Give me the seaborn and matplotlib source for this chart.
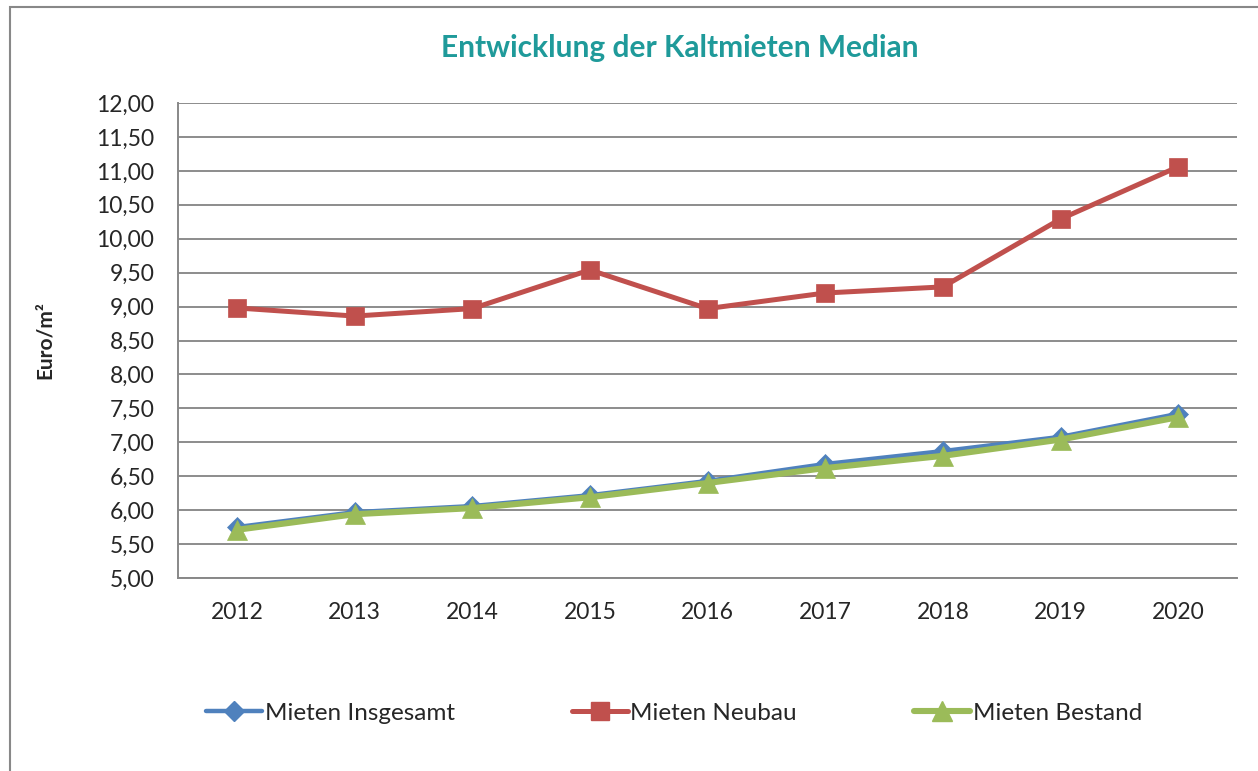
import seaborn as sns
import matplotlib.pyplot as plt
import pandas as pd
from matplotlib.ticker import FuncFormatter, FixedLocator
from matplotlib.lines import Line2D
from matplotlib.patches import Rectangle

years = ["2012", "2013", "2014", "2015", "2016", "2017", "2018", "2019", "2020"]
insgesamt = [5.75, 5.97, 6.06, 6.22, 6.43, 6.68, 6.87, 7.08, 7.42]
neubau = [8.98, 8.86, 8.97, 9.54, 8.97, 9.20, 9.29, 10.29, 11.06]
bestand = [5.71, 5.94, 6.03, 6.19, 6.40, 6.62, 6.80, 7.04, 7.37]

series = ["Mieten Insgesamt", "Mieten Neubau", "Mieten Bestand"]
values = [insgesamt, neubau, bestand]
colors = ["#4F81BD", "#C0504D", "#9BBB59"]
markers = ["D", "s", "^"]
msizes = [10, 13, 14]
lwidths = [3.2, 3.6, 4.4]


def fmt(v, pos):
    return f"{v:.2f}".replace(".", ",")


def main():
    sns.set_style("white")
    plt.rcParams['font.family'] = ['Lato', 'DejaVu Sans']

    fig = plt.figure(figsize=(12.58, 7.71), dpi=100)
    ax = fig.add_axes([178 / 1258, 1 - 578 / 771, (1237 - 178) / 1258, (578 - 103) / 771])

    handles = []
    for name, vals, c, m, ms, lw in zip(series, values, colors, markers, msizes, lwidths):
        data = pd.DataFrame({'x': range(len(years)), 'y': vals})
        sns.lineplot(data=data, x='x', y='y', ax=ax, color=c, marker=m, markersize=ms,
                     linewidth=lw, markeredgecolor=c, markeredgewidth=0.5, zorder=3)
        handles.append(Line2D([], [], color=c, marker=m, markersize=ms, linewidth=lw,
                              markeredgecolor=c, label=name))

    ax.set_xlim(-0.5, len(years) - 0.5)
    ax.set_ylim(5, 12)
    ax.set_yticks([5 + 0.5 * i for i in range(15)])
    ax.yaxis.set_major_formatter(FuncFormatter(fmt))
    ax.set_xticks(range(len(years)))
    ax.set_xticklabels(years)
    ax.xaxis.set_minor_locator(FixedLocator([i - 0.5 for i in range(len(years) + 1)]))
    ax.tick_params(axis='x', which='major', length=0, labelsize=16.5, pad=17)
    ax.tick_params(axis='x', which='minor', length=8, color='#888888', width=1.2, direction='out')
    ax.tick_params(axis='y', length=6, color='#888888', width=1.2, labelsize=16.5, pad=11, direction='out')

    ax.grid(axis='y', color='#8c8c8c', linewidth=1.4)
    for s in ['top', 'right']:
        ax.spines[s].set_visible(False)
    for s in ['left', 'bottom']:
        ax.spines[s].set_color('#888888')
        ax.spines[s].set_linewidth(1.4)

    ax.set_xlabel("")
    ax.set_ylabel("Euro/m²", fontsize=15, fontweight='bold', labelpad=30)

    fig.text(680 / 1258, 1 - 48 / 771, "Entwicklung der Kaltmieten Median", ha='center', va='center',
             fontsize=21.5, fontweight='bold', color='#1F9A9A')

    fig.legend(handles=handles, loc='center', bbox_to_anchor=(674 / 1258, 1 - 713 / 771), ncol=3,
               frameon=False, fontsize=17.5, handlelength=2.3, handletextpad=0.12, columnspacing=4.8)

    fig.patches.append(Rectangle((10 / 1258, -0.05), 1.1, 1 - 7 / 771 + 0.05, transform=fig.transFigure,
                                 fill=False, edgecolor='#888888', linewidth=1.5))

    fig.savefig('out.png', dpi=100)


if __name__ == '__main__':
    main()
